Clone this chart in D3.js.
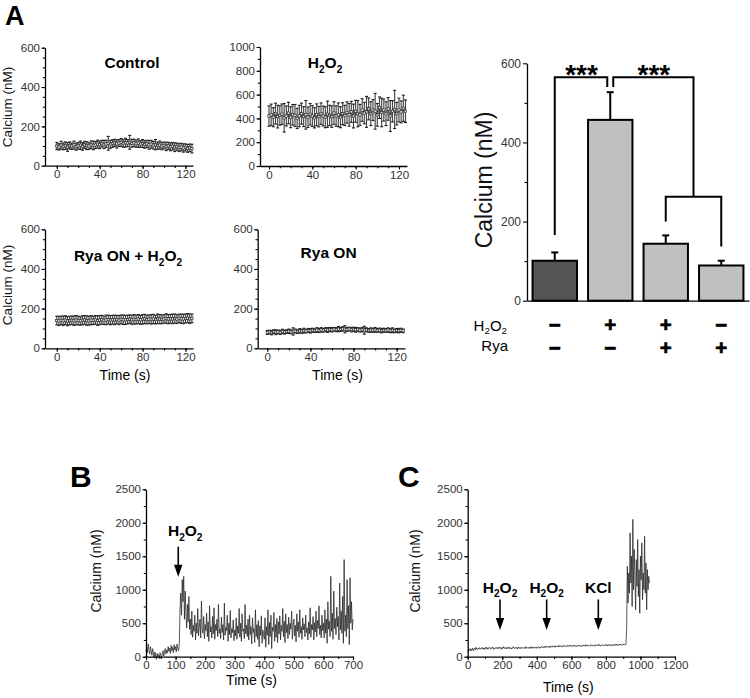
<!DOCTYPE html>
<html><head><meta charset="utf-8">
<script src="https://cdn.jsdelivr.net/npm/d3@7/dist/d3.min.js"></script>
<style>
body{margin:0;background:#fff}
svg{display:block;font-family:Arial,"Liberation Sans",Helvetica,sans-serif}
</style></head><body>
<svg id="fig" width="750" height="698"></svg>
<script>
// ================= DATA =================
// Panel A time courses (sampled every 2 s, 0..126 s)
const aTimes = d3.range(0, 127, 2);
const controlMean = [100, 96, 104, 98, 102, 95, 103, 99, 105, 97, 101, 104, 98, 106, 102, 100, 107, 103, 105, 110,
  106, 112, 108, 111, 114, 109, 113, 116, 111, 115, 118, 113, 117, 115, 119, 114, 116, 112, 115, 110,
  113, 108, 111, 106, 109, 104, 107, 102, 105, 100, 103, 98, 101, 96, 99, 94, 97, 92, 95, 90, 93, 88, 91, 87];
const controlErr = [18, 16, 20, 17, 19, 22, 18, 16, 20, 18, 17, 21, 19, 18, 20, 17, 19, 22, 18, 20,
  19, 17, 21, 18, 35, 20, 19, 18, 21, 17, 20, 19, 22, 18, 35, 20, 19, 18, 21, 17,
  20, 19, 18, 22, 20, 19, 26, 18, 20, 19, 17, 21, 18, 20, 19, 22, 18, 20, 19, 21, 18, 20, 19, 22];
const h2o2Mean = [420, 430, 410, 440, 415, 425, 435, 405, 420, 445, 410, 430, 425, 400, 420, 440, 415, 430, 410, 435,
  420, 405, 430, 415, 440, 420, 410, 435, 425, 415, 445, 420, 430, 410, 440, 425, 450, 430, 455, 420,
  460, 440, 430, 470, 445, 455, 480, 440, 470, 460, 430, 490, 450, 470, 440, 480, 420, 460, 475, 440, 470, 455, 485, 460];
const h2o2Err = [85, 90, 80, 88, 95, 82, 86, 120, 84, 90, 88, 86, 92, 85, 90, 88, 84, 120, 86, 90,
  88, 85, 92, 86, 90, 84, 88, 110, 85, 90, 95, 86, 100, 88, 92, 85, 90, 95, 88, 100,
  92, 110, 88, 95, 90, 130, 92, 100, 88, 150, 95, 90, 120, 92, 100, 95, 130, 90, 160, 95, 100, 92, 110, 95];
const ryaH2o2Mean = [140, 138, 141, 139, 142, 137, 140, 141, 139, 142, 140, 138, 141, 143, 140, 139, 142, 141, 143, 140,
  142, 144, 141, 143, 145, 142, 144, 143, 145, 142, 146, 144, 143, 145, 147, 144, 146, 145, 147, 144,
  146, 148, 145, 147, 146, 148, 145, 149, 147, 146, 148, 150, 147, 149, 148, 150, 147, 151, 149, 148, 150, 152, 149, 151];
const ryaH2o2Err = [22, 23, 21, 24, 22, 23, 22, 21, 24, 23, 22, 21, 23, 22, 24, 22, 23, 21, 22, 24,
  23, 22, 21, 24, 22, 23, 22, 24, 21, 23, 22, 24, 23, 22, 21, 23, 24, 22, 23, 22,
  24, 23, 22, 21, 24, 23, 22, 24, 23, 22, 21, 24, 23, 22, 24, 23, 22, 21, 23, 24, 22, 23, 24, 22];
const ryaMean = [80, 82, 79, 84, 81, 83, 80, 85, 82, 84, 86, 83, 85, 87, 84, 88, 86, 89, 87, 90,
  88, 91, 89, 92, 90, 93, 91, 94, 92, 95, 93, 96, 94, 97, 95, 98, 96, 95, 97, 94,
  96, 93, 95, 92, 94, 91, 93, 90, 92, 91, 93, 90, 92, 89, 91, 90, 92, 89, 91, 88, 90, 89, 91, 88];
const ryaErr = [10, 9, 11, 10, 12, 9, 10, 11, 10, 9, 11, 10, 18, 10, 9, 11, 10, 12, 9, 10,
  11, 10, 9, 12, 10, 11, 9, 10, 12, 10, 11, 9, 10, 13, 10, 11, 18, 10, 9, 11,
  10, 12, 9, 10, 11, 20, 10, 9, 11, 10, 12, 9, 10, 11, 10, 9, 11, 10, 12, 9, 10, 11, 10, 9];
const aXTicks = [0, 40, 80, 120];
const yTicks600 = [0, 200, 400, 600];
const yTicks1000 = [0, 200, 400, 600, 800, 1000];

// Panel A bar chart
const barCats = ["control", "h2o2", "ryaH2o2", "rya"];
const barValues = [101, 457, 144, 89];
const barErrors = [21, 70, 21, 12];
const barTicks = [0, 200, 400, 600];
const h2o2Row = ["\u2212", "+", "+", "\u2212"];
const ryaRow = ["\u2212", "\u2212", "+", "+"];

// Panel B trace (every 2.5 s, 0..700 s)
const bTimes = d3.range(0, 700.1, 2.5);
const bCalcium = [
  80, 140, 60, 190, 110, 40, 150, 90, 20, 120, 60, -20, 70, 10, -40, 50, -10, 30, -30, 60,
  20, -20, 40, 90, 10, 70, 120, 40, 100, 60, 150, 80, 130, 50, 170, 90, 140, 60, 180, 100,
  150, 70, 190, 120, 90, 160, 700, 950, 620, 1150, 820, 1200, 560, 980, 640, 430, 780, 520, 900, 410,
  560, 330, 680, 290, 470, 380, 620, 250, 500, 350, 720, 310, 440, 560, 280, 830, 400, 350, 600, 270,
  480, 390, 650, 300, 520, 230, 760, 370, 450, 280, 600, 340, 730, 260, 480, 390, 560, 300, 780, 350,
  420, 270, 590, 360, 480, 250, 800, 320, 440, 390, 620, 230, 500, 330, 690, 280, 420, 360, 550, 240,
  400, 310, 580, 260, 460, 350, 720, 290, 500, 230, 640, 380, 410, 270, 780, 340, 470, 300, 560, 250,
  620, 330, 450, 190, 580, 360, 420, 210, 700, 300, 480, 260, 540, 150, 460, 320, 610, 200, 400, 350,
  260, 580, 140, 450, 320, 700, 180, 510, 300, 620, 120, 440, 380, 660, 230, 480, 290, 570, 210, 520,
  340, 610, 250, 470, 380, 720, 300, 530, 210, 640, 360, 480, 270, 590, 330, 500, 410, 680, 260, 450,
  560, 310, 470, 220, 640, 380, 520, 290, 700, 350, 450, 260, 580, 400, 490, 300, 620, 360, 430, 250,
  520, 340, 730, 290, 480, 400, 600, 250, 510, 370, 680, 300, 540, 420, 760, 330, 470, 280, 620, 390,
  500, 280, 700, 350, 560, 200, 820, 410, 530, 300, 1200, 380, 650, 260, 980, 420, 570, 330, 740, 450,
  600, 250, 1100, 400, 680, 350, 900, 200, 1450, 380, 620, 300, 1150, 420, 760, 180, 1180, 500, 820, 400,
  560];
const bArrowTimes = [109];
const bArrowLabels = ["H2O2"];
const bXTicks = [0, 100, 200, 300, 400, 500, 600, 700];

// Panel C trace (every 4 s, 0..1052 s)
const cTimes = d3.range(0, 1053, 4);
const cCalcium = [
  100, 80, 115, 95, 120, 85, 105, 130, 90, 110, 125, 100, 140, 115, 105, 130, 120, 135, 110, 125,
  120, 140, 115, 130, 105, 135, 125, 145, 110, 130, 120, 140, 125, 115, 135, 120, 145, 130, 110, 125,
  135, 120, 140, 125, 115, 145, 130, 120, 140, 110, 135, 125, 150, 120, 130, 140, 115, 135, 125, 145,
  120, 140, 130, 115, 135, 125, 150, 130, 120, 140, 125, 135, 115, 145, 130, 125, 140, 120, 135, 130,
  140, 125, 135, 120, 150, 130, 140, 125, 135, 145, 120, 140, 130, 150, 125, 135, 145, 130, 140, 125,
  145, 130, 140, 150, 125, 145, 135, 155, 140, 130, 150, 140, 160, 135, 145, 155, 140, 150, 135, 160,
  145, 155, 140, 160, 150, 145, 165, 140, 155, 150, 160, 145, 170, 150, 155, 165, 145, 160, 150, 170,
  155, 165, 150, 160, 170, 150, 165, 155, 175, 160, 150, 170, 160, 155, 175, 160, 165, 150, 170, 160,
  165, 155, 175, 160, 170, 150, 165, 175, 160, 170, 155, 180, 165, 160, 175, 165, 155, 170, 180, 160,
  170, 160, 175, 165, 155, 180, 170, 165, 175, 160, 185, 170, 160, 175, 165, 180, 170, 160, 175, 185,
  165, 175, 160, 180, 170, 165, 185, 170, 175, 160, 180, 170, 185, 165, 175, 190, 170, 180, 165, 185,
  175, 190, 170, 180, 185, 175, 190, 180, 180, 180, 420, 1350, 800, 1250, 950, 1850, 1100, 1500, 750, 2050,
  1000, 1600, 1200, 700, 1450, 1050, 1750, 900, 1300, 650, 1500, 1150, 1700, 850, 1250, 1000, 1800, 950, 1400, 700,
  1300, 1000, 1200, 1100];
const cArrowTimes = [187, 457, 756];
const cArrowLabels = ["H2O2", "H2O2", "KCl"];
const cXTicks = [0, 200, 400, 600, 800, 1000, 1200];
const bcYTicks = [0, 500, 1000, 1500, 2000, 2500];

// ================= DRAWING =================
const svg = d3.select("#fig");
const FONT = "Arial, 'Liberation Sans', Helvetica, sans-serif";
const fmt = d3.format("d");

function rich(g, x, y, str, fs, bold, anchor, subShift) {
  const t = g.append("text").attr("x", x).attr("y", y).attr("font-size", fs)
    .attr("font-weight", bold ? "bold" : "normal").attr("text-anchor", anchor || "middle")
    .attr("fill", "#000").attr("font-family", FONT);
  let shift = 0;
  const ss = subShift == null ? 0.32 : subShift;
  (str.match(/\d+|\D+/g) || []).forEach(c => {
    const sub = /^\d+$/.test(c);
    const target = sub ? fs * ss : 0;
    const ts = t.append("tspan").text(c);
    if (target !== shift) ts.attr("dy", target - shift);
    if (sub) ts.attr("font-size", fs * 0.65);
    shift = target;
  });
  return t;
}

function styleAxis(sel, fs) {
  sel.selectAll(".domain").attr("stroke", "#000").attr("stroke-width", 1.3);
  sel.selectAll(".tick line").attr("stroke", "#000").attr("stroke-width", 1.1);
  sel.selectAll(".tick text").attr("font-size", fs).attr("fill", "#333").attr("font-family", FONT);
}

function axes(g, x, y, o) {
  const yb = y.range()[0], xl = x.range()[0];
  const gx = g.append("g").attr("transform", `translate(0,${yb})`)
    .call(d3.axisBottom(x).tickValues(o.xMaj).tickFormat(fmt).tickSize(3.5).tickSizeOuter(0).tickPadding(1));
  const gxm = g.append("g").attr("transform", `translate(0,${yb})`)
    .call(d3.axisBottom(x).tickValues(o.xMin).tickSize(2.2).tickSizeOuter(0).tickFormat(""));
  gxm.select(".domain").remove();
  const gy = g.append("g").attr("transform", `translate(${xl},0)`)
    .call(d3.axisLeft(y).tickValues(o.yMaj).tickFormat(fmt).tickSize(3.5).tickSizeOuter(0).tickPadding(1.5));
  const gym = g.append("g").attr("transform", `translate(${xl},0)`)
    .call(d3.axisLeft(y).tickValues(o.yMin).tickSize(2.2).tickSizeOuter(0).tickFormat(""));
  gym.select(".domain").remove();
  [gx, gxm, gy, gym].forEach(s => styleAxis(s, o.fs));
}

function vLabel(g, x, y, txt, fs) {
  g.append("text").attr("transform", `translate(${x},${y}) rotate(-90)`)
    .attr("text-anchor", "middle").attr("font-size", fs).attr("fill", "#111")
    .attr("font-family", FONT).text(txt);
}

// ----- panel letters -----
svg.append("text").attr("x", 5).attr("y", 25).attr("font-size", 27).attr("font-weight", "bold").attr("font-family", FONT).text("A");
svg.append("text").attr("x", 70).attr("y", 487).attr("font-size", 30).attr("font-weight", "bold").attr("font-family", FONT).text("B");
svg.append("text").attr("x", 398).attr("y", 487).attr("font-size", 30).attr("font-weight", "bold").attr("font-family", FONT).text("C");

// ----- Panel A scatter panels -----
const aPanels = [
  {title: "Control", mean: controlMean, err: controlErr, xl: 45, xr: 193, xd: [-11, 127], yb: 165.7, yt: 47.7, ymax: 600, yMaj: yTicks600, yMinStep: 50, tx: 132, ty: 68},
  {title: "H2O2", mean: h2o2Mean, err: h2o2Err, xl: 260, xr: 407, xd: [-8.3, 127.4], yb: 166, yt: 47, ymax: 1000, yMaj: yTicks1000, yMinStep: 100, tx: 325, ty: 68},
  {title: "Rya ON + H2O2", mean: ryaH2o2Mean, err: ryaH2o2Err, xl: 45, xr: 193, xd: [-11, 127], yb: 348.3, yt: 229.3, ymax: 600, yMaj: yTicks600, yMinStep: 50, tx: 128, ty: 261},
  {title: "Rya ON", mean: ryaMean, err: ryaErr, xl: 257.7, xr: 405, xd: [-8.9, 127.7], yb: 348.3, yt: 229.3, ymax: 600, yMaj: yTicks600, yMinStep: 50, tx: 328.6, ty: 258}
];

aPanels.forEach(p => {
  const g = svg.append("g");
  const x = d3.scaleLinear().domain(p.xd).range([p.xl, p.xr]);
  const y = d3.scaleLinear().domain([0, p.ymax]).range([p.yb, p.yt]);
  const data = aTimes.map((t, i) => ({t, m: p.mean[i], e: p.err[i]})).filter(d => d.m != null);
  const eb = g.append("g").attr("stroke", "#444").attr("stroke-width", 1.15);
  eb.selectAll("line.v").data(data).join("line").attr("class", "v")
    .attr("x1", d => x(d.t)).attr("x2", d => x(d.t))
    .attr("y1", d => y(d.m - d.e)).attr("y2", d => y(d.m + d.e));
  eb.selectAll("line.ct").data(data).join("line").attr("class", "ct")
    .attr("stroke", "#222")
    .attr("x1", d => x(d.t) - 1.5).attr("x2", d => x(d.t) + 1.5)
    .attr("y1", d => y(d.m + d.e)).attr("y2", d => y(d.m + d.e));
  eb.selectAll("line.cb").data(data).join("line").attr("class", "cb")
    .attr("stroke", "#222")
    .attr("x1", d => x(d.t) - 1.5).attr("x2", d => x(d.t) + 1.5)
    .attr("y1", d => y(d.m - d.e)).attr("y2", d => y(d.m - d.e));
  g.append("path").datum(data).attr("fill", "none").attr("stroke", "#222").attr("stroke-width", 0.8)
    .attr("d", d3.line().x(d => x(d.t)).y(d => y(d.m)));
  g.append("g").selectAll("rect").data(data).join("rect")
    .attr("x", d => x(d.t) - 1.2).attr("y", d => y(d.m) - 1.2)
    .attr("width", 2.4).attr("height", 2.4)
    .attr("fill", "#ddd").attr("stroke", "#222").attr("stroke-width", 0.6);
  axes(g, x, y, {
    xMaj: aXTicks, xMin: d3.range(0, 127, 10),
    yMaj: p.yMaj, yMin: d3.range(0, p.ymax + 1, p.yMinStep), fs: 11.5
  });
  rich(g, p.tx, p.ty, p.title, 15.5, true, "middle");
});
vLabel(svg, 11.5, 107, "Calcium (nM)", 13.5);
vLabel(svg, 11.5, 285, "Calcium (nM)", 13.5);
svg.append("text").attr("x", 125).attr("y", 380).attr("text-anchor", "middle").attr("font-size", 14).attr("font-family", FONT).text("Time (s)");
svg.append("text").attr("x", 337.5).attr("y", 380).attr("text-anchor", "middle").attr("font-size", 14).attr("font-family", FONT).text("Time (s)");

// ----- Panel A bar chart -----
(function () {
  const g = svg.append("g");
  const bx = d3.scaleBand().domain(barCats).range([527, 749]).paddingInner(0.2).paddingOuter(0.1);
  const by = d3.scaleLinear().domain([0, 600]).range([300.7, 63.3]);
  const fills = ["#555555", "#c0c0c0", "#c0c0c0", "#c0c0c0"];
  const bars = barCats.map((c, i) => ({c, v: barValues[i], e: barErrors[i], i}));
  g.append("g").selectAll("line").data(bars).join("line")
    .attr("x1", d => bx(d.c) + bx.bandwidth() / 2).attr("x2", d => bx(d.c) + bx.bandwidth() / 2)
    .attr("y1", d => by(d.v)).attr("y2", d => by(d.v + d.e))
    .attr("stroke", "#000").attr("stroke-width", 2);
  g.append("g").selectAll("line").data(bars).join("line")
    .attr("x1", d => bx(d.c) + bx.bandwidth() / 2 - 3.5).attr("x2", d => bx(d.c) + bx.bandwidth() / 2 + 3.5)
    .attr("y1", d => by(d.v + d.e)).attr("y2", d => by(d.v + d.e))
    .attr("stroke", "#000").attr("stroke-width", 2);
  g.append("g").selectAll("rect").data(bars).join("rect")
    .attr("x", d => bx(d.c)).attr("width", bx.bandwidth())
    .attr("y", d => by(d.v)).attr("height", d => by(0) - by(d.v))
    .attr("fill", d => fills[d.i]).attr("stroke", "#000").attr("stroke-width", 2);
  const gy = g.append("g").attr("transform", "translate(527,0)")
    .call(d3.axisLeft(by).tickValues(barTicks).tickFormat(fmt).tickSize(4).tickSizeOuter(0).tickPadding(2));
  const gym = g.append("g").attr("transform", "translate(527,0)")
    .call(d3.axisLeft(by).tickValues([100, 300, 500]).tickSize(2.5).tickSizeOuter(0).tickFormat(""));
  gym.select(".domain").remove();
  styleAxis(gy, 12); styleAxis(gym, 12);
  const gx = g.append("g").attr("transform", `translate(0,${by(0)})`)
    .call(d3.axisBottom(bx).tickSize(0).tickSizeOuter(0).tickFormat(""));
  styleAxis(gx, 12);
  vLabel(g, 492, 180, "Calcium (nM)", 23);

  // significance brackets
  const cx = c => bx(c) + bx.bandwidth() / 2;
  const lineG = g.append("g").attr("fill", "none").attr("stroke", "#000").attr("stroke-width", 2);
  const p = d3.path();
  p.moveTo(cx("control"), by(166)); p.lineTo(cx("control"), by(565));
  p.lineTo(cx("h2o2") - 3, by(565)); p.lineTo(cx("h2o2") - 3, by(540));
  const lowMid = (cx("ryaH2o2") + cx("rya")) / 2;
  p.moveTo(cx("h2o2") + 3, by(540)); p.lineTo(cx("h2o2") + 3, by(565));
  p.lineTo(lowMid, by(565)); p.lineTo(lowMid, by(263));
  p.moveTo(cx("ryaH2o2"), by(200)); p.lineTo(cx("ryaH2o2"), by(263));
  p.lineTo(cx("rya"), by(263)); p.lineTo(cx("rya"), by(137));
  lineG.append("path").attr("d", p.toString());
  g.append("text").attr("x", (cx("control") + cx("h2o2")) / 2 - 1).attr("y", 84).attr("text-anchor", "middle")
    .attr("font-size", 28).attr("font-weight", "bold").attr("font-family", FONT).text("***");
  g.append("text").attr("x", (cx("h2o2") + lowMid) / 2 + 2).attr("y", 84).attr("text-anchor", "middle")
    .attr("font-size", 28).attr("font-weight", "bold").attr("font-family", FONT).text("***");

  // treatment rows
  const rl = g.append("text").attr("text-anchor", "end").attr("font-family", FONT).attr("font-size", 15);
  rl.append("tspan").attr("x", 507).attr("y", 330.5).text("H");
  rl.append("tspan").attr("font-size", 9.75).attr("dy", 3.6).text("2");
  rl.append("tspan").attr("dy", -3.6).text("O");
  rl.append("tspan").attr("font-size", 9.75).attr("dy", 3.6).text("2");
  rl.append("tspan").attr("x", 508).attr("y", 350.5).text("Rya");
  const signRow = (row, yBase) => g.append("g").selectAll("text").data(barCats).join("text")
    .attr("x", d => cx(d)).attr("y", yBase).attr("text-anchor", "middle")
    .attr("font-size", 20.5).attr("font-weight", "bold").attr("font-family", FONT)
    .attr("stroke", "#000").attr("stroke-width", 0.7)
    .text((d, i) => row[i]);
  signRow(h2o2Row, 332.3);
  signRow(ryaRow, 355.3);
})();

// ----- Panels B & C traces -----
function arrow(g, x, y1, y2) {
  g.append("line").attr("x1", x).attr("x2", x).attr("y1", y1).attr("y2", y2 - 10)
    .attr("stroke", "#000").attr("stroke-width", 1.6);
  g.append("path").attr("d", `M${x - 4.2},${y2 - 12}L${x + 4.2},${y2 - 12}L${x},${y2}Z`).attr("fill", "#000");
}

function tracePanel(o) {
  const g = svg.append("g");
  const x = d3.scaleLinear().domain(o.xd).range(o.xr);
  const y = d3.scaleLinear().domain([0, 2500]).range([656.7, 489.3]);
  const data = o.times.map((t, i) => ({t, v: o.vals[i]})).filter(d => d.v != null);
  g.append("path").datum(data).attr("fill", "none").attr("stroke", "#222").attr("stroke-width", 0.75)
    .attr("stroke-linejoin", "round")
    .attr("d", d3.line().x(d => x(d.t)).y(d => y(d.v)));
  axes(g, x, y, {xMaj: o.xMaj, xMin: o.xMin, yMaj: bcYTicks, yMin: d3.range(0, 2501, 250), fs: 11.5});
  o.arrows.forEach((t, i) => {
    arrow(g, x(t), o.ay1, o.ay2);
    rich(g, x(t) + (o.labelShift[i] || 0), o.ly, o.labels[i], 15.5, true, "middle");
  });
  vLabel(g, o.ylx, 571, "Calcium (nM)", 14);
  g.append("text").attr("x", (o.xr[0] + o.xr[1]) / 2 + o.tShift).attr("y", o.ty).attr("text-anchor", "middle")
    .attr("font-size", 14).attr("font-family", FONT).text("Time (s)");
}

tracePanel({
  times: bTimes, vals: bCalcium, xd: [0, 700], xr: [146, 353],
  xMaj: bXTicks, xMin: d3.range(0, 701, 50),
  arrows: bArrowTimes, labels: bArrowLabels, labelShift: [7], ly: 536, ay1: 546.7, ay2: 576.7,
  ylx: 101, ty: 685, tShift: 2
});
tracePanel({
  times: cTimes, vals: cCalcium, xd: [0, 1200], xr: [467.7, 675],
  xMaj: cXTicks, xMin: d3.range(0, 1201, 100),
  arrows: cArrowTimes, labels: cArrowLabels, labelShift: [0, 0, 0], ly: 592.5, ay1: 599.5, ay2: 630,
  ylx: 420, ty: 692, tShift: -3
});
</script>
</body></html>
